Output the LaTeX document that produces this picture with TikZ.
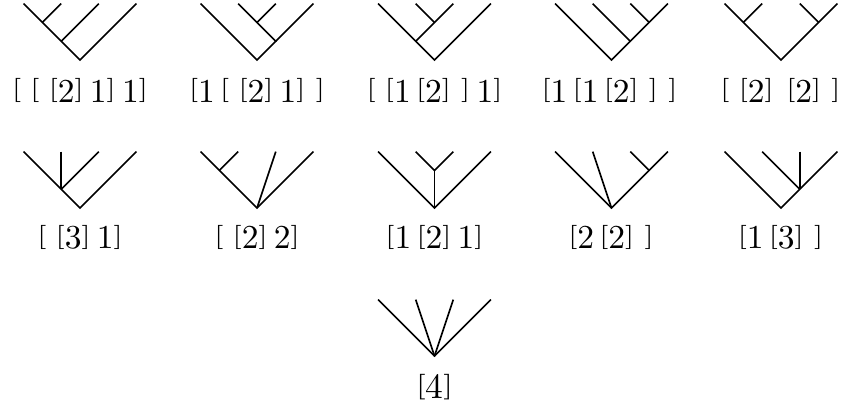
\documentclass[tikz,border=0pt]{standalone}
\usepackage{graphicx}
\tikzset{
  edge/.style={line width=1.6pt},
  lbl/.style={anchor=base, inner sep=0pt},
}
\newcommand\uu{18.8}
\newcommand\mkleaves[3]{%
  \coordinate (#1l1) at ({#2-3*\uu},{#3-3*\uu});
  \coordinate (#1l2) at ({#2-\uu},{#3-3*\uu});
  \coordinate (#1l3) at ({#2+\uu},{#3-3*\uu});
  \coordinate (#1l4) at ({#2+3*\uu},{#3-3*\uu});
  \coordinate (#1r) at (#2,#3);
}
\newcommand\lab[1]{\scalebox{3.35}{\normalsize #1}}
\newcommand\labb[1]{\scalebox{3.55}{\normalsize #1}}
\newcommand\ob{\raisebox{0.15em}{\scalebox{1}[0.72]{[}}}
\newcommand\cb{\raisebox{0.15em}{\scalebox{1}[0.72]{]}}}
\newcommand\ga{\hspace{2.7pt}}% [[
\newcommand\gb{\hspace{3.0pt}}% ]]
\newcommand\gc{\hspace{1.8pt}}% ]1
\newcommand\gd{\hspace{1.5pt}}% 1[
\newcommand\gf{\hspace{3.6pt}}% ][
\begin{document}
\begin{tikzpicture}[x=1pt,y=-1pt]
\useasboundingbox (0,0) rectangle (844,408);
% ---------- row 1 ----------
\mkleaves{a}{80}{60}
\coordinate (aa) at ({80-2*\uu},{60-2*\uu});
\coordinate (ab) at ({80-\uu},{60-\uu});
\draw[edge] (al1) -- (aa) -- (ab) -- (ar) -- (al4);
\draw[edge] (al2) -- (aa);
\draw[edge] (al3) -- (ab);
\node[lbl] (at) at (80,102) {\lab{\ob\ga\ob\ga\ob 2\cb\gc 1\cb\gc 1\cb}};

\mkleaves{b}{257}{60}
\coordinate (ba) at (257,{60-2*\uu});
\coordinate (bb) at ({257+\uu},{60-\uu});
\draw[edge] (bl1) -- (br) -- (bb) -- (ba) -- (bl2);
\draw[edge] (bb) -- (bl4);
\draw[edge] (ba) -- (bl3);
\node[lbl] (bt) at (257,102) {\lab{\ob 1\gd\ob\ga\ob 2\cb\gc 1\cb\gb\cb}};

\mkleaves{c}{434.5}{60}
\coordinate (ca) at (434.5,{60-2*\uu});
\coordinate (cb) at ({434.5-\uu},{60-\uu});
\draw[edge] (cl1) -- (cb) -- (cr) -- (cl4);
\draw[edge] (cb) -- (ca) -- (cl3);
\draw[edge] (cl2) -- (ca);
\node[lbl] (ct) at (434.5,102) {\lab{\ob\ga\ob 1\gd\ob 2\cb\gb\cb\gc 1\cb}};

\mkleaves{d}{611.5}{60}
\coordinate (da) at ({611.5+2*\uu},{60-2*\uu});
\coordinate (db) at ({611.5+\uu},{60-\uu});
\draw[edge] (dl1) -- (dr) -- (db) -- (da) -- (dl4);
\draw[edge] (dl2) -- (db);
\draw[edge] (dl3) -- (da);
\node[lbl] (dt) at (609.5,102) {\lab{\ob 1\gd\ob 1\gd\ob 2\cb\gb\cb\gb\cb}};

\mkleaves{e}{781}{60}
\coordinate (ea) at ({781-2*\uu},{60-2*\uu});
\coordinate (eb) at ({781+2*\uu},{60-2*\uu});
\draw[edge] (el1) -- (ea) -- (er) -- (eb) -- (el4);
\draw[edge] (el2) -- (ea);
\draw[edge] (el3) -- (eb);
\node[lbl] (et) at (780.5,102) {\lab{\ob\ga\ob 2\cb\gf\ob 2\cb\gb\cb}};

% ---------- row 2 ----------
\mkleaves{f}{80}{208}
\coordinate (fa) at ({80-\uu},{208-\uu});
\draw[edge] (fl1) -- (fa) -- (fr) -- (fl4);
\draw[edge] (fl2) -- (fa);
\draw[edge] (fl3) -- (fa);
\node[lbl] (ft) at (80,248.5) {\lab{\ob\ga\ob 3\cb\gc 1\cb}};

\mkleaves{g}{257}{208}
\coordinate (ga) at ({257-2*\uu},{208-2*\uu});
\draw[edge] (gl1) -- (ga) -- (gr) -- (gl4);
\draw[edge] (gl2) -- (ga);
\draw[edge] (gl3) -- (gr);
\node[lbl] (gt) at (257,248.5) {\lab{\ob\ga\ob 2\cb\gc 2\cb}};

\mkleaves{h}{434.5}{208}
\coordinate (ha) at (434.5,{208-2*\uu});
\draw[edge] (hl1) -- (hr) -- (hl4);
\draw[edge] (hl2) -- (ha) -- (hl3);
\draw[edge] (ha) -- (hr);
\node[lbl] (ht) at (434.5,248.5) {\lab{\ob 1\gd\ob 2\cb\gc 1\cb}};

\mkleaves{i}{611.5}{208}
\coordinate (ia) at ({611.5+2*\uu},{208-2*\uu});
\draw[edge] (il1) -- (ir) -- (ia) -- (il4);
\draw[edge] (il2) -- (ir);
\draw[edge] (il3) -- (ia);
\node[lbl] (it) at (611,248.5) {\lab{\ob 2\gd\ob 2\cb\gb\cb}};

\mkleaves{j}{781}{208}
\coordinate (ja) at ({781+\uu},{208-\uu});
\draw[edge] (jl1) -- (jr) -- (ja) -- (jl4);
\draw[edge] (jl2) -- (ja);
\draw[edge] (jl3) -- (ja);
\node[lbl] (jt) at (780.5,248.5) {\lab{\ob 1\gd\ob 3\cb\gb\cb}};

% ---------- row 3 ----------
\mkleaves{k}{434.5}{356}
\draw[edge] (kl1) -- (kr) -- (kl4);
\draw[edge] (kl2) -- (kr);
\draw[edge] (kl3) -- (kr);
\node[lbl] (kt) at (434.5,398.5) {\labb{\ob 4\cb}};
\end{tikzpicture}
\end{document}
